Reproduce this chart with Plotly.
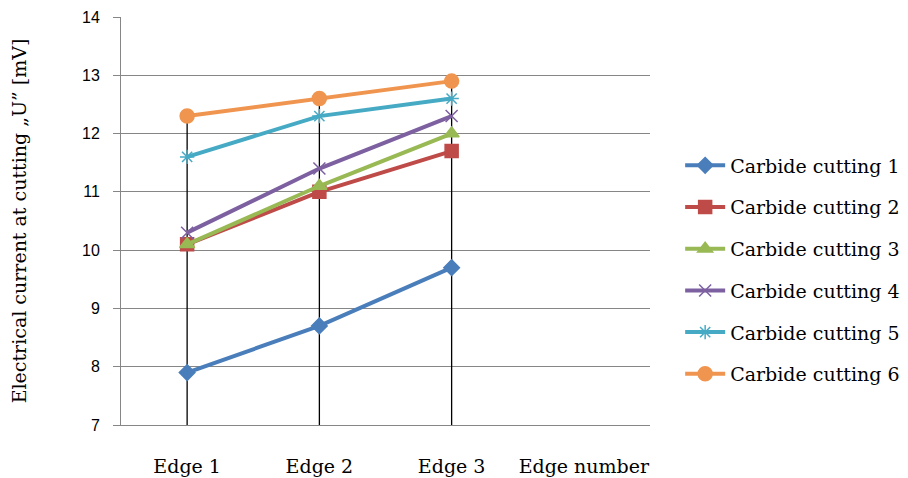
import plotly.graph_objects as go

categories = ["Edge 1", "Edge 2", "Edge 3"]
series_names = ["Carbide cutting 1", "Carbide cutting 2", "Carbide cutting 3",
                "Carbide cutting 4", "Carbide cutting 5", "Carbide cutting 6"]
s1 = [7.9, 8.7, 9.7]
s2 = [10.1, 11.0, 11.7]
s3 = [10.1, 11.1, 12.0]
s4 = [10.3, 11.4, 12.3]
s5 = [11.6, 12.3, 12.6]
s6 = [12.3, 12.6, 12.9]
y_ticks = [7, 8, 9, 10, 11, 12, 13, 14]
x_title = "Edge number"
y_title = "Electrical current at cutting \u201eU\u201d [mV]"

series = [s1, s2, s3, s4, s5, s6]
colors = ["#4A7EBB", "#BE4B48", "#98B954", "#7D60A0", "#46AAC5", "#F0954F"]
symbols = ["diamond", "square", "triangle-up", "x-thin-open", "asterisk-open", "circle"]
msizes = [12, 13, 13, 12, 12, 14]

serif = "DejaVu Serif"
fig = go.Figure()

# drop lines from axis minimum to series maximum per category
dx, dy = [], []
for i, c in enumerate(categories):
    top = max(s[i] for s in series)
    dx += [c, c, None]
    dy += [y_ticks[0], top, None]
fig.add_trace(go.Scatter(x=dx, y=dy, mode="lines", line=dict(color="black", width=1.3),
                         showlegend=False, hoverinfo="skip"))

for name, vals, col, sym, ms in zip(series_names, series, colors, symbols, msizes):
    fig.add_trace(go.Scatter(
        x=categories, y=vals, name=name, mode="lines+markers",
        legendgroup=name,
        line=dict(color=col, width=4),
        marker=dict(symbol=sym, size=ms, color=col,
                    line=dict(color=col, width=1.5)),
    ))

fig.update_layout(
    width=900, height=470,
    margin=dict(l=113, r=258, t=9, b=53, autoexpand=False),
    paper_bgcolor="white", plot_bgcolor="white",
    font=dict(family=serif, size=18, color="black"),
    showlegend=True,
    legend=dict(x=1.057, xanchor="left", y=0.38, yanchor="middle",
                font=dict(family=serif, size=19, color="black"),
                tracegroupgap=14, itemwidth=40,
                bgcolor="rgba(0,0,0,0)"),
    xaxis=dict(type="category", categoryorder="array",
               categoryarray=categories + [x_title],
               range=[-0.5, 3.5],
               tickvals=categories + [x_title],
               ticktext=categories + [x_title],
               showgrid=False, showline=True, linecolor="#868686", linewidth=1,
               ticks="", ticklabelstandoff=24,
               tickfont=dict(family=serif, size=19, color="black"),
               zeroline=False, automargin=False),
    yaxis=dict(range=[7, 14], tickvals=y_ticks, showgrid=True, gridcolor="#868686",
               gridwidth=1, showline=True, linecolor="#868686", linewidth=1,
               ticks="outside", ticklen=7, tickcolor="#868686", ticklabelstandoff=10,
               tickfont=dict(family="Liberation Sans", size=16, color="black"),
               title=dict(text=y_title, font=dict(family=serif, size=19, color="black"),
                          standoff=56),
               zeroline=False, automargin=False),
)

fig.write_html("out.html")
